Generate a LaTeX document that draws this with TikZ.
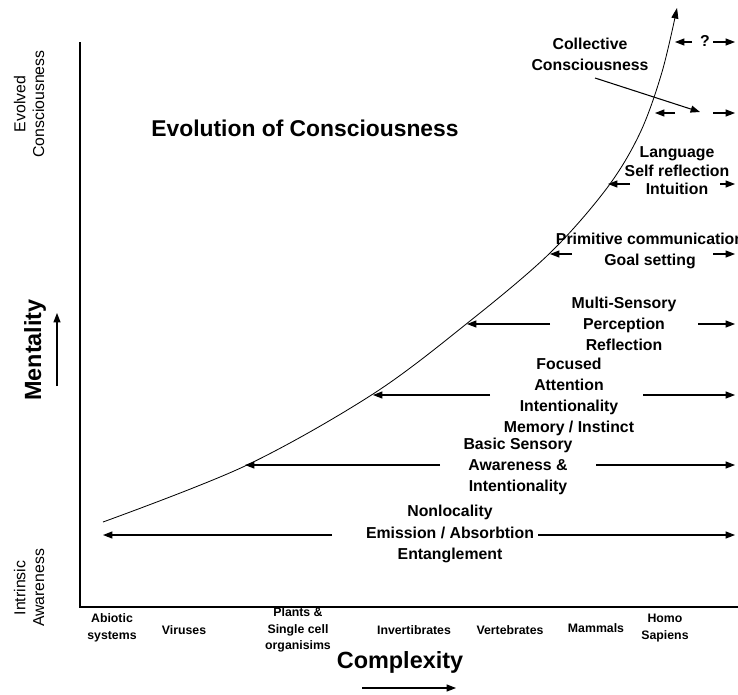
\documentclass[tikz,border=0pt]{standalone}
\usepackage{fontspec}
\setmainfont{Liberation Sans}
\usetikzlibrary{arrows.meta}

\begin{document}
\begin{tikzpicture}[x=0.03cm,y=-0.03cm,
  lbl/.style={font=\bfseries\fontsize{13.5}{18}\selectfont,align=center,inner sep=0pt},
  cat/.style={font=\bfseries\fontsize{10.5}{14}\selectfont,align=center,inner sep=0pt},
  big/.style={font=\bfseries\fontsize{20}{24}\selectfont,inner sep=0pt},
  side/.style={font=\fontsize{13.5}{16}\selectfont,align=center,inner sep=0pt,rotate=90},
  axis/.style={line width=2.4pt},
  bar/.style={line width=0.9pt,-{Triangle[length=8pt,width=6pt]}},
  ]
\clip (0,0) rectangle (738,694);
% axes
\coordinate (top) at (80,42);
\coordinate (origin) at (80,607);
\coordinate (right) at (738,607);
\draw[axis] (top) -- (origin) -- (right);
% growth curve
\draw[line width=0.7pt,-{Triangle[length=9pt,width=6pt]}] plot[smooth,tension=0.55] coordinates
  {(103,522) (245,466) (373,394) (470,321) (550,253) (607,188) (640,133) (662,72) (677,8)};
% titles
\node[big,font=\bfseries\fontsize{19.5}{24}\selectfont] (title) at (305,128) {Evolution of Consciousness};
\node[big] (complexity) at (400,662) {Complexity};
\node[big,rotate=90] (mentality) at (35,350) {Mentality};
\node[side] (evolved) at (29,104) {Evolved\\Consciousness};
\node[side] (intrinsic) at (29,588) {Intrinsic\\Awareness};
\coordinate (cxA) at (362,688); \coordinate (cxB) at (456,688);
\draw[bar] (cxA) -- (cxB);
\coordinate (mnA) at (57,386); \coordinate (mnB) at (57,313);
\draw[bar] (mnA) -- (mnB);
% categories
\node[cat] (abiotic) at (112,628) {Abiotic\\systems};
\node[cat] (viruses) at (184,630) {Viruses};
\node[cat] (plants) at (298,630) {Plants \&\\Single cell\\organisims};
\node[cat] (invert) at (414,630) {Invertibrates};
\node[cat] (vert) at (510,630) {Vertebrates};
\node[cat] (mammals) at (596,628) {Mammals};
\node[cat] (homo) at (665,628) {Homo\\Sapiens};
% levels
\node[lbl] (nonloc) at (450,534) {Nonlocality\\Emission / Absorbtion\\Entanglement};
\coordinate (nlA) at (332,535); \coordinate (nlL) at (103,535);
\coordinate (nlB) at (538,535); \coordinate (nlR) at (735,535);
\draw[bar] (nlA) -- (nlL); \draw[bar] (nlB) -- (nlR);
\node[lbl] (basic) at (518,466) {Basic Sensory\\Awareness \&\\Intentionality};
\coordinate (bsA) at (440,465); \coordinate (bsL) at (245,465);
\coordinate (bsB) at (596,465); \coordinate (bsR) at (735,465);
\draw[bar] (bsA) -- (bsL); \draw[bar] (bsB) -- (bsR);
\node[lbl] (focused) at (569,397) {Focused\\Attention\\Intentionality\\Memory / Instinct};
\coordinate (fcA) at (490,395); \coordinate (fcL) at (373,395);
\coordinate (fcB) at (643,395); \coordinate (fcR) at (735,395);
\draw[bar] (fcA) -- (fcL); \draw[bar] (fcB) -- (fcR);
\node[lbl] (multi) at (624,324) {Multi-Sensory\\Perception\\Reflection};
\coordinate (msA) at (550,324); \coordinate (msL) at (467,324);
\coordinate (msB) at (698,324); \coordinate (msR) at (735,324);
\draw[bar] (msA) -- (msL); \draw[bar] (msB) -- (msR);
\node[lbl] (primitive) at (650,251) {Primitive communication\\Goal setting};
\coordinate (pcA) at (572,254); \coordinate (pcL) at (550,254);
\coordinate (pcB) at (713,254); \coordinate (pcR) at (735,254);
\draw[bar] (pcA) -- (pcL); \draw[bar] (pcB) -- (pcR);
\node[lbl,font=\bfseries\fontsize{13.5}{15.7}\selectfont] (language) at (677,171) {Language\\Self reflection\\Intuition};
\coordinate (lgA) at (630,184); \coordinate (lgL) at (608,184);
\coordinate (lgB) at (720,184); \coordinate (lgR) at (735,184);
\draw[bar] (lgA) -- (lgL); \draw[bar] (lgB) -- (lgR);
\node[lbl] (collective) at (590,54) {Collective\\Consciousness};
\coordinate (ccA) at (595,78); \coordinate (ccT) at (700,112);
\draw[bar] (ccA) -- (ccT);
\coordinate (ccLA) at (675,113); \coordinate (ccL) at (655,113);
\coordinate (ccRA) at (713,113); \coordinate (ccR) at (735,113);
\draw[bar] (ccLA) -- (ccL); \draw[bar] (ccRA) -- (ccR);
\node[lbl] (query) at (705,41) {?};
\coordinate (qA) at (692,42); \coordinate (qL) at (675,42);
\coordinate (qB) at (713,42); \coordinate (qR) at (735,42);
\draw[bar] (qA) -- (qL); \draw[bar] (qB) -- (qR);
\end{tikzpicture}
\end{document}
